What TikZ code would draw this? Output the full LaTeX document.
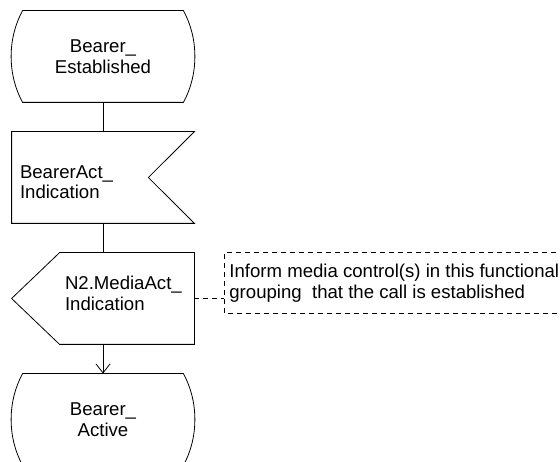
\documentclass[tikz,border=0pt]{standalone}
\usepackage{fontspec}
\setmainfont{Liberation Sans}
\usetikzlibrary{arrows.meta,positioning}

\begin{document}
\begin{tikzpicture}[x=1pt, y=-1pt, line width=0.8pt,
  >={Straight Barb[length=9pt,width=14pt]},
  font=\fontsize{18.6}{20.5}\selectfont,
  box/.style={rectangle, draw=none, minimum width=182pt, minimum height=91pt, inner sep=0pt, align=center},
  txt/.style={align=left, inner sep=0pt},
  note/.style={rectangle, draw=none, minimum height=60pt, inner xsep=5pt, inner ysep=0pt, align=left, anchor=west},
  dashline/.style={dash pattern=on 5pt off 4pt}
]
\useasboundingbox (0,0) rectangle (560,462);
\clip (0,0) rectangle (560,462);
% states and signals
\node[box] (est) at (103,56.5) {Bearer\_\\Established};
\node[box, label={[txt, anchor=west, xshift=8pt, yshift=-4.5pt]west:BearerAct\_\\Indication}] (bact) at (103,177.5) {};
\node[box, label={[txt, anchor=west, xshift=53pt, yshift=5pt]west:N2.MediaAct\_\\Indication}] (mact) at (103,298.5) {};
\node[box] (act) at (103,419.5) {Bearer\_\\Active};
\node[note] (cmt) at (224,283) {Inform media control(s) in this functional\\grouping\ \ that the call is established};
% outlines
\draw ([xshift=11pt]est.north west) -- ([xshift=-11pt]est.north east)
  .. controls ([xshift=4.3pt,yshift=-27.8pt]est.north east) and ([xshift=4.3pt,yshift=27.8pt]est.south east) .. ([xshift=-11pt]est.south east)
  -- ([xshift=11pt]est.south west)
  .. controls ([xshift=-4.3pt,yshift=27.8pt]est.south west) and ([xshift=-4.3pt,yshift=-27.8pt]est.north west) .. cycle;
\draw (bact.north west) -- (bact.north east) -- ([xshift=-46pt]bact.east) -- (bact.south east) -- (bact.south west) -- cycle;
\draw ([xshift=48pt]mact.north west) -- (mact.north east) -- (mact.south east) -- ([xshift=48pt]mact.south west) -- (mact.west) -- cycle;
\draw ([xshift=11pt]act.north west) -- ([xshift=-11pt]act.north east)
  .. controls ([xshift=4.3pt,yshift=-27.8pt]act.north east) and ([xshift=4.3pt,yshift=27.8pt]act.south east) .. ([xshift=-11pt]act.south east)
  -- ([xshift=11pt]act.south west)
  .. controls ([xshift=-4.3pt,yshift=27.8pt]act.south west) and ([xshift=-4.3pt,yshift=-27.8pt]act.north west) .. cycle;
% comment bracket
\draw[dashline] (cmt.north east) -- (cmt.north west) -- (cmt.south west) -- ([xshift=-7pt]cmt.south east);
% connectors
\draw (est) -- (bact);
\draw (bact) -- (mact);
\draw[->] (mact) -- (act);
\draw[dashline] (mact.east) -- (mact.east -| cmt.west);
\end{tikzpicture}
\end{document}
